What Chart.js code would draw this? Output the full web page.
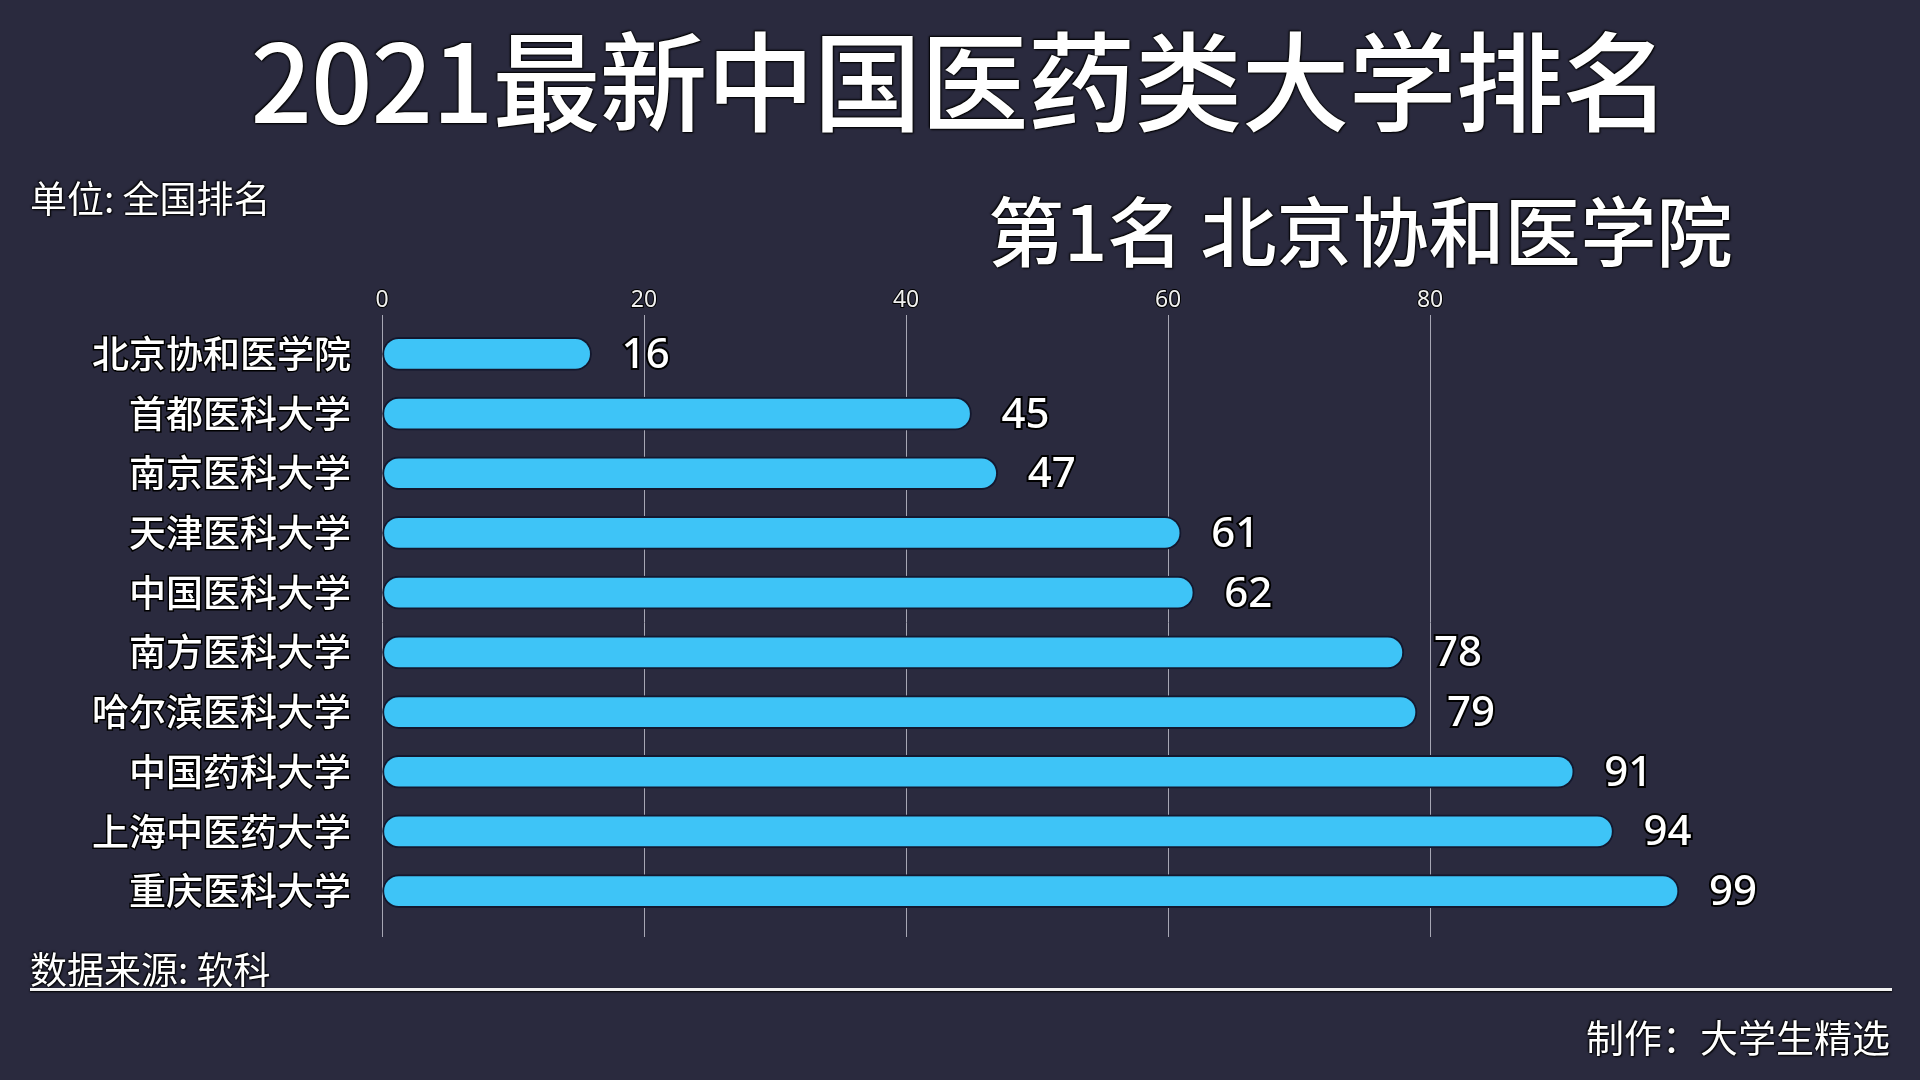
<!DOCTYPE html>
<html>
<head>
<meta charset="utf-8">
<script src="https://cdn.jsdelivr.net/npm/chart.js@4.4.0/dist/chart.umd.min.js"></script>
<style>
  html, body { margin: 0; padding: 0; background: #2a2a3e; }
  #wrap { position: relative; width: 1920px; height: 1080px; overflow: hidden;
          font-family: "Noto Sans CJK SC", "Noto Sans", sans-serif; color: #fff; }
  #wrap canvas { position: absolute; left: 0; top: 0; }
  .txt { position: absolute; white-space: nowrap; line-height: 1;
         text-shadow: 0 0 2px #000, 1px 1px 2px #000, -1px -1px 2px #000; }
  #title { left: 0; width: 1920px; text-align: center; top: 22px; font-size: 108px; font-weight: 500; letter-spacing: -1px; }
  #unit { left: 30px; top: 179px; font-size: 37px; }
  #leader { left: 988px; top: 190px; font-size: 76px; font-weight: 500; }
  #source { left: 30px; top: 950px; font-size: 37px; }
  #rule { position: absolute; left: 30px; top: 988px; width: 1862px; height: 3px; background: #f2f2f2; box-shadow: 0 1px 2px #000; }
  #maker { right: 30px; top: 1017px; font-size: 38px; }
</style>
</head>
<body>
<div id="wrap">
  <canvas id="rankChart" width="1920" height="1080"></canvas>
  <div class="txt" id="title">2021最新中国医药类大学排名</div>
  <div class="txt" id="unit">单位: 全国排名</div>
  <div class="txt" id="leader">第1名 北京协和医学院</div>
  <div class="txt" id="source">数据来源: 软科</div>
  <div id="rule"></div>
  <div class="txt" id="maker">制作：大学生精选</div>
</div>
<script>
const universities = ['北京协和医学院', '首都医科大学', '南京医科大学', '天津医科大学', '中国医科大学',
    '南方医科大学', '哈尔滨医科大学', '中国药科大学', '上海中医药大学', '重庆医科大学'];
const ranks = [16, 45, 47, 61, 62, 78, 79, 91, 94, 99];
const tickValues = [0, 20, 40, 60, 80];

// the grid lines run a little past the last bar
const gridTail = {
    id: 'gridTail',
    beforeDatasetsDraw(chart) {
        const ctx = chart.ctx;
        const x = chart.scales.x;
        const bottom = chart.chartArea.bottom;
        ctx.save();
        ctx.strokeStyle = '#a7a7b4';
        ctx.lineWidth = 1;
        tickValues.forEach(v => {
            const px = Math.round(x.getPixelForValue(v)) + 0.5;
            ctx.beginPath();
            ctx.moveTo(px, bottom);
            ctx.lineTo(px, bottom + 16);
            ctx.stroke();
        });
        ctx.restore();
    }
};

// value labels to the right of each bar
const valueLabels = {
    id: 'valueLabels',
    afterDatasetsDraw(chart) {
        const ctx = chart.ctx;
        const meta = chart.getDatasetMeta(0);
        ctx.save();
        ctx.font = '500 42px "Noto Sans", sans-serif';
        ctx.textAlign = 'left';
        ctx.textBaseline = 'middle';
        ctx.lineWidth = 4;
        ctx.strokeStyle = '#000';
        ctx.fillStyle = '#fff';
        meta.data.forEach((bar, i) => {
            const x = bar.x + 30;
            const y = bar.y + 2;
            ctx.strokeText(ranks[i], x, y);
            ctx.fillText(ranks[i], x, y);
        });
        ctx.restore();
    }
};

new Chart(document.getElementById('rankChart'), {
    type: 'bar',
    data: {
        labels: universities,
        datasets: [{
            data: ranks,
            backgroundColor: '#3ec4f7',
            borderColor: '#14182e',
            borderWidth: 2,
            borderSkipped: false,
            borderRadius: 17,
            barThickness: 33
        }]
    },
    options: {
        responsive: false,
        animation: false,
        indexAxis: 'y',
        layout: { padding: { left: 0, right: 241, top: 0, bottom: 159 } },
        plugins: {
            legend: { display: false },
            tooltip: { enabled: false }
        },
        scales: {
            x: {
                position: 'top',
                min: 0,
                max: 99,
                afterBuildTicks: (scale) => { scale.ticks = tickValues.map(v => ({ value: v })); },
                afterFit: (scale) => { scale.height = 324; },
                grid: { color: '#a7a7b4', lineWidth: 1, tickLength: 9, drawTicks: true },
                border: { display: false },
                ticks: {
                    color: '#f0f0f0',
                    padding: 1,
                    font: { size: 23, family: '"Noto Sans", sans-serif' },
                    textStrokeColor: '#000',
                    textStrokeWidth: 2
                }
            },
            y: {
                afterFit: (scale) => { scale.width = 382; },
                grid: { display: false },
                border: { display: false },
                ticks: {
                    color: '#ffffff',
                    padding: 23,
                    font: { size: 37, weight: '500', family: '"Noto Sans CJK SC", sans-serif' },
                    textStrokeColor: '#000',
                    textStrokeWidth: 3
                }
            }
        }
    },
    plugins: [gridTail, valueLabels]
});
</script>
</body>
</html>
